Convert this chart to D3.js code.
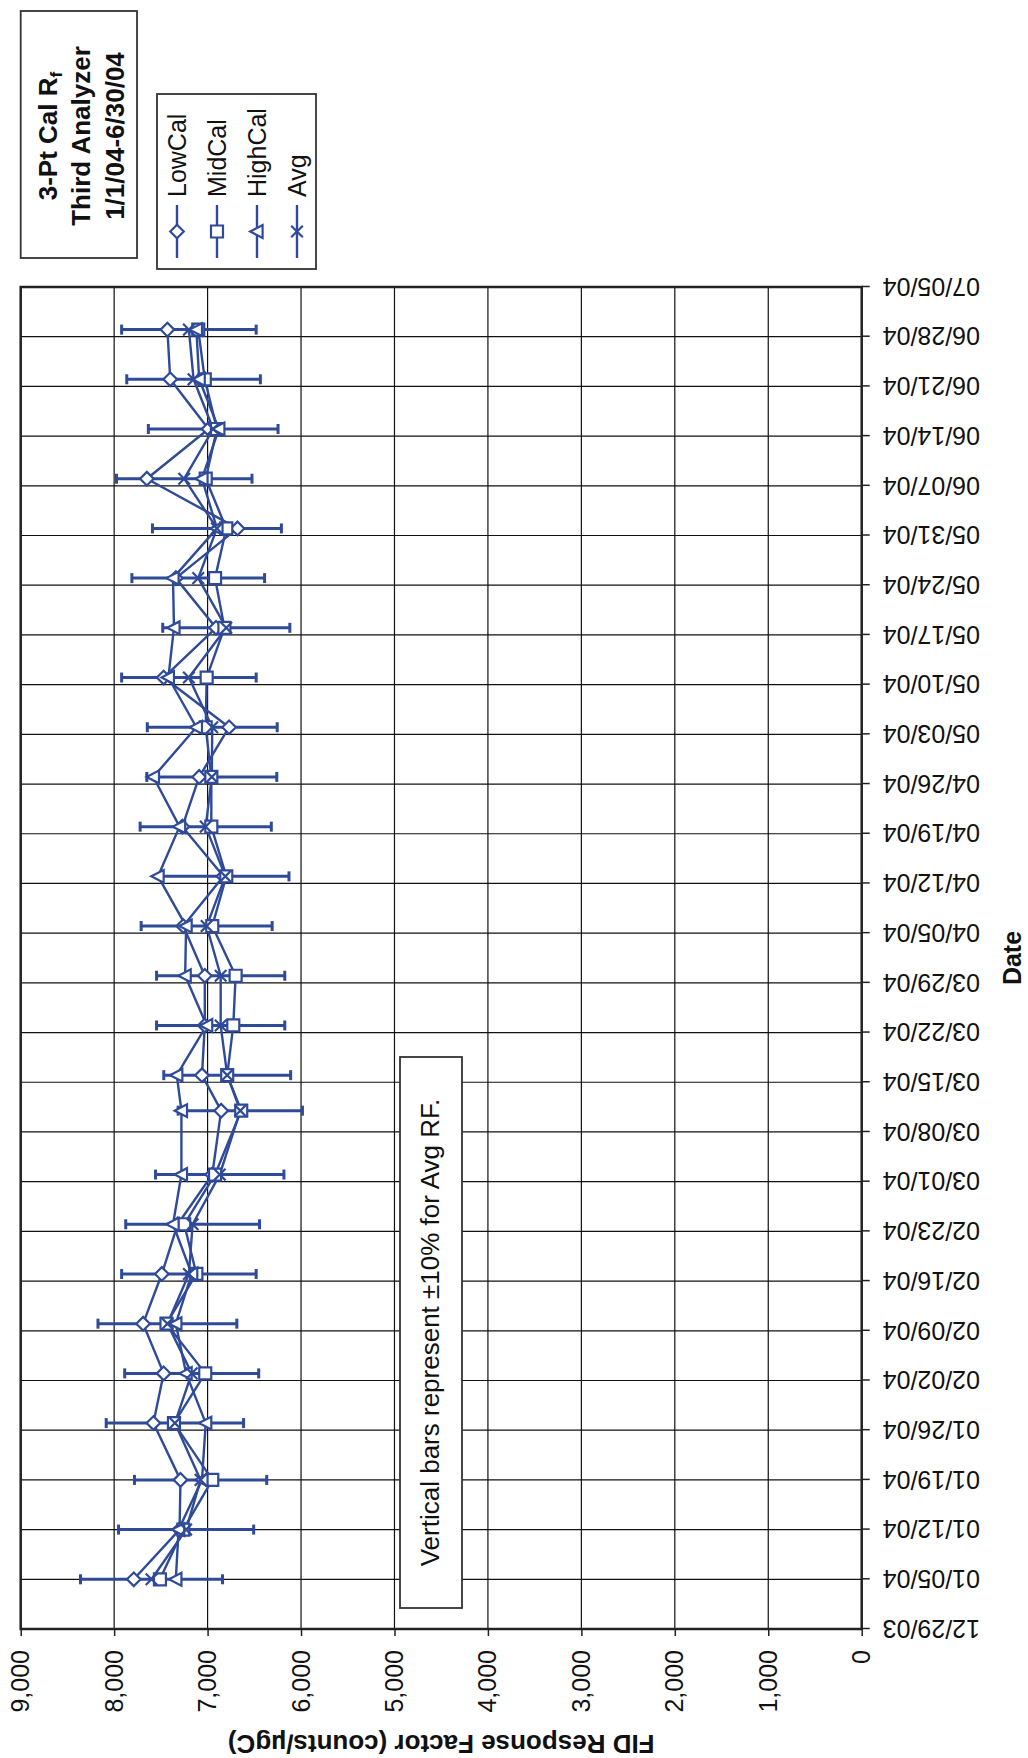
<!DOCTYPE html>
<html>
<head>
<meta charset="utf-8">
<script src="https://cdn.jsdelivr.net/npm/d3@7"></script>
<style>
  html, body { margin: 0; padding: 0; background: #fff; }
  svg { display: block; font-family: "Liberation Sans", Arial, Helvetica, sans-serif; }
</style>
</head>
<body>
<script>
// Calibration dates (one run per week)
const calDates = [
  "2004-01-05","2004-01-12","2004-01-19","2004-01-27","2004-02-03","2004-02-10",
  "2004-02-17","2004-02-24","2004-03-02","2004-03-11","2004-03-16","2004-03-23",
  "2004-03-30","2004-04-06","2004-04-13","2004-04-20","2004-04-27","2004-05-04",
  "2004-05-11","2004-05-18","2004-05-25","2004-06-01","2004-06-08","2004-06-15",
  "2004-06-22","2004-06-29"
];

// Response factors, counts/µgC
const lowCal  = [7790,7300,7290,7580,7470,7690,7490,7320,6950,6855,7060,7030,7030,7260,6830,7270,7090,6770,7470,6910,7340,6680,7650,6990,7400,7430];
const midCal  = [7510,7260,6950,7360,7025,7440,7120,7250,6920,6640,6790,6725,6700,6950,6800,6960,6960,7020,7010,6820,6920,6800,7020,6900,7030,7100];
const highCal = [7340,7310,7060,7020,7230,7340,7170,7370,7280,7280,7330,7010,7240,7230,7530,7300,7580,7120,7420,7360,7370,6900,7060,6880,7090,7120];
const avgRF   = [7600,7230,7075,7350,7170,7430,7200,7160,6870,6650,6790,6860,6860,7010,6810,7020,6955,6950,7200,6800,7100,6900,7250,6940,7150,7200];

// Axis definitions
const dateStart = "2003-12-29";
const dateEnd   = "2004-07-05";
const valueTicks = [0,1000,2000,3000,4000,5000,6000,7000,8000,9000];
const errorPct = 0.10;

const seriesNames = ["LowCal","MidCal","HighCal","Avg"];
const titleLines = ["3-Pt Cal R", "Third Analyzer", "1/1/04-6/30/04"];
const noteText = "Vertical bars represent \u00b110% for Avg RF.";
const yTitle = "FID Response Factor (counts/\u00b5gC)";
const xTitle = "Date";

// ---------------------------------------------------------------
const W = 1028, H = 1758;
const blue = "#2f4a98";

const svg = d3.select("body").append("svg")
  .attr("width", W).attr("height", H);
svg.append("rect").attr("width", W).attr("height", H).attr("fill", "#fff");

// The chart is laid out landscape (H wide, W tall) and turned a quarter turn
// counter-clockwise onto the portrait page.
const g = svg.append("g").attr("transform", `translate(0,${H}) rotate(-90)`);

const plot = { left: 129, right: 1471, top: 20.7, bottom: 861.7 };
const parse = d3.utcParse("%Y-%m-%d");

const x = d3.scaleUtc()
  .domain([parse(dateStart), parse(dateEnd)])
  .range([plot.left, plot.right]);
const y = d3.scaleLinear()
  .domain([0, 9000])
  .range([plot.bottom, plot.top]);

const weekTicks = d3.utcMonday.range(parse(dateStart), d3.utcDay.offset(parse(dateEnd), 1));

// plot background
g.append("rect")
  .attr("x", plot.left).attr("y", plot.top)
  .attr("width", plot.right - plot.left).attr("height", plot.bottom - plot.top)
  .attr("fill", "#fff");

// gridlines
const grid = g.append("g").attr("stroke", "#111").attr("stroke-width", 1.2);
grid.selectAll("line.h").data(valueTicks).join("line")
  .attr("class", "h")
  .attr("x1", plot.left).attr("x2", plot.right)
  .attr("y1", d => y(d)).attr("y2", d => y(d));
grid.selectAll("line.v").data(weekTicks).join("line")
  .attr("class", "v")
  .attr("y1", plot.top).attr("y2", plot.bottom)
  .attr("x1", d => x(d)).attr("x2", d => x(d));

// axes
const xAxis = d3.axisBottom(x)
  .tickValues(weekTicks)
  .tickFormat(d3.utcFormat("%m/%d/%y"))
  .tickSize(8).tickSizeOuter(0);
const gx = g.append("g").attr("transform", `translate(0,${plot.bottom})`).call(xAxis);
gx.select(".domain").remove();
gx.selectAll(".tick line").attr("stroke", "#222").attr("stroke-width", 1.5);
gx.selectAll(".tick text")
  .attr("transform", "rotate(-90)")
  .attr("x", -21).attr("y", 0).attr("dy", "0.35em")
  .attr("text-anchor", "end")
  .attr("font-size", 25).attr("fill", "#111")
  .attr("font-family", "Liberation Sans, Arial, sans-serif");

const yAxis = d3.axisLeft(y)
  .tickValues(valueTicks)
  .tickFormat(d3.format(","))
  .tickSize(7).tickPadding(14).tickSizeOuter(0);
const gy = g.append("g").attr("transform", `translate(${plot.left},0)`).call(yAxis);
gy.select(".domain").remove();
gy.selectAll(".tick line").attr("stroke", "#222").attr("stroke-width", 1.5);
gy.selectAll(".tick text")
  .attr("font-size", 25).attr("fill", "#111")
  .attr("font-family", "Liberation Sans, Arial, sans-serif");

// plot border
g.append("rect")
  .attr("x", plot.left).attr("y", plot.top)
  .attr("width", plot.right - plot.left).attr("height", plot.bottom - plot.top)
  .attr("fill", "none").attr("stroke", "#222").attr("stroke-width", 2.5);

// axis titles
g.append("text")
  .attr("transform", `translate(23,${(plot.top + plot.bottom) / 2}) rotate(-90)`)
  .attr("text-anchor", "middle")
  .attr("font-size", 26).attr("font-weight", "bold").attr("fill", "#111")
  .text(yTitle);
g.append("text")
  .attr("x", (plot.left + plot.right) / 2).attr("y", 1021)
  .attr("text-anchor", "middle")
  .attr("font-size", 25).attr("font-weight", "bold").attr("fill", "#111")
  .text(xTitle);

// marker shapes
const markerPath = {
  LowCal:  "M0,-6.8L6.8,0L0,6.8L-6.8,0Z",
  MidCal:  "M-6,-6h12v12h-12Z",
  HighCal: "M0,-6.8L6.4,5.6L-6.4,5.6Z",
  Avg:     "M-5.8,-5.8L5.8,5.8M-5.8,5.8L5.8,-5.8"
};

const records = calDates.map((d, i) => ({
  date: parse(d),
  LowCal: lowCal[i], MidCal: midCal[i], HighCal: highCal[i], Avg: avgRF[i]
}));

// error bars on the average
const eb = g.append("g").attr("stroke", blue).attr("stroke-width", 3);
eb.selectAll("line.bar").data(records).join("line")
  .attr("class", "bar")
  .attr("x1", d => x(d.date)).attr("x2", d => x(d.date))
  .attr("y1", d => y(d.Avg * (1 + errorPct))).attr("y2", d => y(d.Avg * (1 - errorPct)));
[1 + errorPct, 1 - errorPct].forEach(f => {
  eb.selectAll(null).data(records).join("line")
    .attr("x1", d => x(d.date) - 5).attr("x2", d => x(d.date) + 5)
    .attr("y1", d => y(d.Avg * f)).attr("y2", d => y(d.Avg * f));
});

// series lines
const line = key => d3.line().x(d => x(d.date)).y(d => y(d[key]));
seriesNames.forEach(key => {
  g.append("path").datum(records)
    .attr("d", line(key))
    .attr("fill", "none").attr("stroke", blue).attr("stroke-width", 2.4)
    .attr("stroke-linejoin", "round");
});

// series markers
seriesNames.forEach(key => {
  g.append("g").selectAll("path").data(records).join("path")
    .attr("transform", d => `translate(${x(d.date)},${y(d[key])})`)
    .attr("d", markerPath[key])
    .attr("fill", key === "Avg" ? "none" : "#fff")
    .attr("stroke", blue).attr("stroke-width", 2.2);
});

// title box
const tb = { x0: 1500, x1: 1747, y0: 20.7, y1: 137 };
g.append("rect")
  .attr("x", tb.x0).attr("y", tb.y0)
  .attr("width", tb.x1 - tb.x0).attr("height", tb.y1 - tb.y0)
  .attr("fill", "#fff").attr("stroke", "#333").attr("stroke-width", 1.8);
const titleBaselines = [57, 90, 124];
titleLines.forEach((t, i) => {
  const txt = g.append("text")
    .attr("x", 1622).attr("y", titleBaselines[i])
    .attr("text-anchor", "middle")
    .attr("font-size", 26).attr("font-weight", "bold").attr("fill", "#111");
  txt.append("tspan").text(t);
  if (i === 0) {
    txt.append("tspan").attr("font-size", 17).attr("dy", 5).text("f");
  }
});

// legend
const lg = { x0: 1489, x1: 1664, y0: 157, y1: 316 };
g.append("rect")
  .attr("x", lg.x0).attr("y", lg.y0)
  .attr("width", lg.x1 - lg.x0).attr("height", lg.y1 - lg.y0)
  .attr("fill", "#fff").attr("stroke", "#333").attr("stroke-width", 1.8);
seriesNames.forEach((key, i) => {
  const cy = 177 + 40 * i;
  g.append("line")
    .attr("x1", 1500).attr("x2", 1553).attr("y1", cy).attr("y2", cy)
    .attr("stroke", blue).attr("stroke-width", 2.4);
  g.append("path")
    .attr("transform", `translate(1526.5,${cy})`)
    .attr("d", markerPath[key])
    .attr("fill", key === "Avg" ? "none" : "#fff")
    .attr("stroke", blue).attr("stroke-width", 2.2);
  g.append("text")
    .attr("x", 1561).attr("y", cy).attr("dy", "0.35em")
    .attr("font-size", 25).attr("fill", "#111")
    .text(key);
});

// note box
const nb = { x0: 150, x1: 701, y0: 400, y1: 462 };
g.append("rect")
  .attr("x", nb.x0).attr("y", nb.y0)
  .attr("width", nb.x1 - nb.x0).attr("height", nb.y1 - nb.y0)
  .attr("fill", "#fff").attr("stroke", "#333").attr("stroke-width", 1.8);
g.append("text")
  .attr("x", (nb.x0 + nb.x1) / 2).attr("y", 439)
  .attr("text-anchor", "middle")
  .attr("font-size", 26).attr("fill", "#111")
  .text(noteText);
</script>
</body>
</html>
